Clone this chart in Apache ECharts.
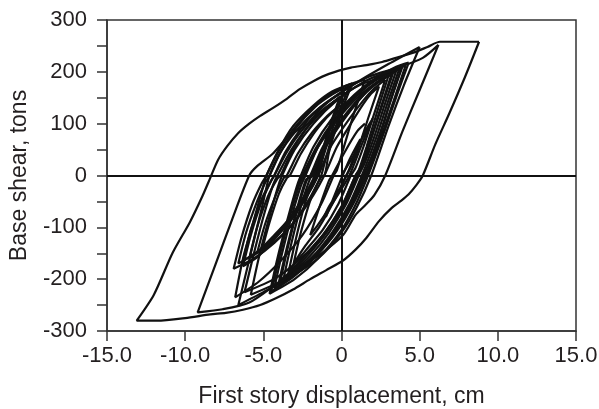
<!DOCTYPE html>
<html><head><meta charset="utf-8">
<script src="https://cdn.jsdelivr.net/npm/echarts@6/dist/echarts.min.js"></script>
<style>html,body{margin:0;padding:0;background:#fff}#c{width:599px;height:409px}</style>
</head><body><div id="c"></div>
<script>
// Axis settings / tick labels
const xTicks = [-15, -10, -5, 0, 5, 10, 15];
const yTicks = [-300, -200, -100, 0, 100, 200, 300];
const xName = 'First story displacement, cm';
const yName = 'Base shear, tons';

// Hysteresis loops [displacement cm, base shear tons]
const loopA = [[8.8,258],[7.9,190],[6.9,120],[6.0,60],[5.2,0],[4.8,-18],[4.3,-36],[3.8,-49],[3.2,-63],[2.4,-88],[1.6,-120],[0.9,-143],[0.1,-164],[-1.0,-183],[-2.0,-200],[-3.1,-220],[-4.2,-237],[-5.2,-250],[-6.3,-259],[-7.4,-265],[-8.4,-268],[-10.0,-275],[-11.8,-280],[-13.1,-280],[-12.0,-230],[-10.8,-149],[-9.7,-90],[-8.9,-40],[-8.4,-5],[-7.9,30],[-7.3,57],[-6.6,82],[-5.9,100],[-5.2,115],[-4.4,130],[-3.5,148],[-2.7,166],[-1.8,182],[-0.8,196],[0.6,208],[1.6,213],[2.6,219],[3.6,228],[4.6,237],[5.5,248],[6.3,258],[8.8,258]];
const loopB = [[6.2,252],[5.0,165],[3.9,85],[2.8,0],[2.1,-38],[1.5,-58],[0.9,-76],[0.1,-115],[-1.4,-153],[-2.7,-177],[-4.2,-210],[-5.9,-245],[-7.6,-258],[-9.2,-264],[-8.1,-175],[-7.0,-85],[-5.9,0],[-5.4,18],[-4.4,42],[-3.4,75],[-2.2,99],[-1.4,127],[-0.1,159],[1.7,190],[3.6,208],[5.2,227],[6.2,252]];
const loopC = [[5.0,248],[4.0,175],[3.0,95],[1.9,0],[1.0,-60],[0.0,-110],[-1.5,-160],[-3.2,-195],[-5.0,-225],[-6.6,-250],[-5.8,-150],[-5.0,-50],[-4.6,0],[-3.8,50],[-2.5,100],[-1.0,140],[1.0,180],[3.0,215],[5.0,248]];
const loopR1 = [[4.3,218],[3.6,160],[2.8,90],[2.2,40],[1.7,0],[1.0,-50],[0.0,-105],[-1.5,-160],[-3.0,-200],[-4.6,-228],[-4.1,-160],[-3.5,-90],[-2.9,-25],[-2.6,0],[-1.8,55],[-0.6,110],[0.8,155],[2.3,190],[3.5,210],[4.3,218]];
const loopR2 = [[3.9,210],[3.2,150],[2.5,85],[1.9,35],[1.4,0],[0.6,-55],[-0.5,-110],[-1.8,-160],[-3.2,-195],[-4.3,-218],[-3.8,-150],[-3.2,-80],[-2.6,-20],[-2.3,0],[-1.5,55],[-0.3,110],[1.0,155],[2.4,188],[3.9,210]];
const loopR3 = [[3.5,202],[2.8,140],[2.1,75],[1.5,25],[1.1,0],[0.3,-55],[-0.8,-110],[-2.0,-155],[-3.2,-188],[-4.0,-205],[-3.5,-140],[-2.9,-70],[-2.3,-10],[-2.0,0],[-1.2,55],[0.0,108],[1.3,155],[2.4,182],[3.5,202]];
const loopR4 = [[3.2,195],[2.5,130],[1.8,65],[1.3,20],[0.9,0],[0.1,-55],[-1.0,-108],[-2.2,-150],[-3.1,-180],[-3.7,-198],[-3.2,-130],[-2.6,-60],[-2.0,-5],[-1.8,0],[-1.0,55],[0.2,110],[1.4,155],[2.3,178],[3.2,195]];
const loopR5 = [[2.8,185],[2.1,120],[1.4,55],[0.9,15],[0.6,0],[-0.2,-55],[-1.2,-105],[-2.3,-145],[-3.0,-170],[-3.4,-188],[-2.9,-120],[-2.3,-50],[-1.7,-5],[-1.5,0],[-0.7,55],[0.4,105],[1.4,145],[2.1,168],[2.8,185]];
const loopR6 = [[2.4,172],[1.7,110],[1.0,45],[0.5,10],[0.3,0],[-0.5,-50],[-1.4,-98],[-2.3,-135],[-2.8,-158],[-3.1,-175],[-2.6,-110],[-1.9,-40],[-1.3,-3],[-1.1,0],[-0.3,55],[0.6,100],[1.4,138],[1.9,158],[2.4,172]];
const loopR7 = [[4.1,212],[3.4,150],[2.6,80],[2.0,30],[1.6,0],[0.8,-52],[-0.3,-108],[-1.7,-158],[-3.1,-196],[-4.5,-224],[-4.0,-155],[-3.4,-85],[-2.8,-22],[-2.5,0],[-1.6,55],[-0.4,110],[0.9,155],[2.3,188],[3.3,204],[4.1,212]];
const loopR8 = [[3.7,206],[3.0,145],[2.3,80],[1.7,30],[1.3,0],[0.5,-55],[-0.6,-110],[-1.9,-158],[-3.3,-192],[-4.4,-214],[-3.9,-148],[-3.3,-78],[-2.7,-18],[-2.4,0],[-1.5,55],[-0.2,110],[1.1,153],[2.5,185],[3.7,206]];
const loopR9 = [[3.3,198],[2.6,135],[1.9,70],[1.4,22],[1.0,0],[0.2,-55],[-0.9,-108],[-2.1,-152],[-3.2,-185],[-3.9,-202],[-3.4,-135],[-2.8,-65],[-2.2,-8],[-1.9,0],[-1.1,55],[0.1,108],[1.3,152],[2.3,180],[3.3,198]];
const loopM1 = [[3.8,205],[3.1,140],[2.4,70],[1.8,20],[1.5,0],[0.6,-60],[-0.6,-118],[-2.0,-165],[-3.6,-200],[-5.8,-230],[-5.3,-160],[-4.7,-90],[-4.1,-25],[-3.8,0],[-3.0,50],[-1.8,100],[-0.3,145],[1.4,180],[2.8,198],[3.8,205]];
const loopM2 = [[3.0,192],[2.3,125],[1.6,55],[1.1,10],[0.9,0],[0.0,-60],[-1.2,-115],[-2.6,-160],[-4.2,-198],[-6.2,-225],[-5.6,-150],[-5.0,-80],[-4.4,-20],[-4.1,0],[-3.2,50],[-2.0,100],[-0.5,142],[1.2,175],[3.0,192]];
const loopM3 = [[1.5,185],[0.8,120],[0.1,50],[-0.3,10],[-0.5,0],[-1.3,-55],[-2.5,-115],[-3.9,-165],[-5.3,-205],[-6.8,-235],[-6.3,-160],[-5.6,-85],[-5.0,-20],[-4.8,0],[-4.0,48],[-2.8,100],[-1.3,145],[0.2,172],[1.5,185]];
const loopL1 = [[0.5,172],[-0.2,120],[-0.9,62],[-1.3,22],[-1.5,0],[-2.2,-40],[-3.2,-85],[-4.3,-120],[-5.4,-148],[-6.6,-170],[-6.1,-110],[-5.4,-50],[-4.9,-15],[-4.6,0],[-3.9,45],[-2.9,92],[-1.7,132],[-0.5,158],[0.5,172]];
const loopL2 = [[0.2,162],[-0.5,110],[-1.1,55],[-1.5,15],[-1.7,0],[-2.4,-40],[-3.4,-85],[-4.4,-118],[-5.3,-145],[-6.3,-165],[-5.8,-105],[-5.1,-45],[-4.5,-10],[-4.3,0],[-3.6,45],[-2.6,90],[-1.5,128],[-0.5,150],[0.2,162]];
const loopL3 = [[-0.1,152],[-0.7,100],[-1.2,50],[-1.5,12],[-1.6,0],[-2.3,-38],[-3.2,-80],[-4.2,-115],[-5.0,-140],[-5.9,-160],[-5.4,-100],[-4.7,-40],[-4.1,-6],[-3.9,0],[-3.2,45],[-2.3,88],[-1.3,122],[-0.6,140],[-0.1,152]];
const loopL4 = [[0.3,140],[-0.3,95],[-0.8,45],[-1.0,10],[-1.1,0],[-1.8,-38],[-2.8,-82],[-3.8,-115],[-4.6,-135],[-5.4,-150],[-4.9,-95],[-4.2,-38],[-3.7,-5],[-3.5,0],[-2.8,42],[-1.9,82],[-0.9,115],[-0.3,130],[0.3,140]];
const loopL5 = [[-0.3,130],[-0.8,85],[-1.2,40],[-1.4,8],[-1.5,0],[-2.2,-38],[-3.1,-80],[-4.0,-110],[-4.6,-130],[-5.1,-145],[-4.6,-90],[-4.0,-35],[-3.5,-5],[-3.3,0],[-2.6,42],[-1.8,80],[-1.0,110],[-0.6,122],[-0.3,130]];
const loopL6 = [[0.7,178],[0.0,125],[-0.7,65],[-1.1,22],[-1.3,0],[-2.0,-42],[-3.1,-92],[-4.3,-130],[-5.6,-160],[-6.9,-180],[-6.4,-120],[-5.7,-55],[-5.1,-15],[-4.8,0],[-4.1,45],[-3.1,95],[-1.8,135],[-0.6,162],[0.7,178]];
const loopL7 = [[0.0,150],[-0.6,100],[-1.2,45],[-1.5,8],[-1.6,0],[-2.4,-45],[-3.5,-95],[-4.5,-130],[-5.4,-158],[-6.3,-175],[-5.8,-115],[-5.1,-50],[-4.5,-10],[-4.3,0],[-3.5,45],[-2.5,88],[-1.4,122],[-0.6,140],[0.0,150]];
const loopS1 = [[0,0],[0.8,40],[1.6,90],[2.0,110],[1.3,60],[0.5,0],[-0.5,-50],[-1.5,-95],[-2.0,-115],[-1.4,-60],[-0.8,-10],[-0.6,0],[0.2,45],[1.0,85],[1.5,100]];
const loopS2 = [[-1.0,-80],[-0.2,-20],[0.5,30],[1.2,70],[0.6,20],[0.0,-20],[-0.8,-60],[-1.2,-85]];

const loops = [loopA, loopB, loopC, loopR1, loopR2, loopR3, loopR4, loopR5, loopR6, loopR7, loopR8, loopR9,
  loopM1, loopM2, loopM3, loopL1, loopL2, loopL3, loopL4, loopL5, loopL6, loopL7, loopS1, loopS2];

const chart = echarts.init(document.getElementById('c'), null, {renderer: 'canvas'});
const ink = '#111';
const axisCol = '#333';
const txt = '#231f20';
const font = 'Liberation Sans, Arial, sans-serif';
const series = loops.map((d) => ({
  type: 'line', data: d, showSymbol: false, symbol: 'none', smooth: 0.25,
  lineStyle: {color: ink, width: 2.2}, silent: true, z: 3
}));
series[0].markLine = {
  silent: true, symbol: 'none', label: {show: false},
  lineStyle: {color: ink, width: 2, type: 'solid'},
  data: [{xAxis: 0}, {yAxis: 0}]
};
chart.setOption({
  animation: false,
  backgroundColor: '#fff',
  grid: {left: 107, right: 23, top: 20, bottom: 78, containLabel: false, outerBoundsMode: 'none',
    show: true, borderColor: axisCol, borderWidth: 1.5},
  xAxis: {
    type: 'value', min: xTicks[0], max: xTicks[xTicks.length - 1], interval: 5,
    name: xName, nameLocation: 'middle', nameGap: 54,
    nameTextStyle: {fontFamily: font, fontSize: 23, color: txt},
    axisLine: {onZero: false, lineStyle: {color: axisCol, width: 1.5}},
    axisTick: {show: true, inside: false, length: 10, lineStyle: {color: axisCol, width: 1.5}},
    axisLabel: {margin: 14, fontFamily: font, fontSize: 22, color: txt,
      formatter: v => v === 0 ? '0' : v.toFixed(1)},
    splitLine: {show: false}
  },
  yAxis: {
    type: 'value', min: yTicks[0], max: yTicks[yTicks.length - 1], interval: 50,
    name: yName, nameLocation: 'middle', nameGap: 76, nameRotate: 90,
    nameTextStyle: {fontFamily: font, fontSize: 23, color: txt},
    axisLine: {onZero: false, lineStyle: {color: axisCol, width: 1.5}},
    axisTick: {show: true, inside: false, length: 10, lineStyle: {color: axisCol, width: 1.5}},
    axisLabel: {margin: 20, fontFamily: font, fontSize: 22, color: txt,
      formatter: v => (yTicks.indexOf(v) >= 0 ? String(v) : '')},
    splitLine: {show: false}
  },
  series: series
});
</script></body></html>
